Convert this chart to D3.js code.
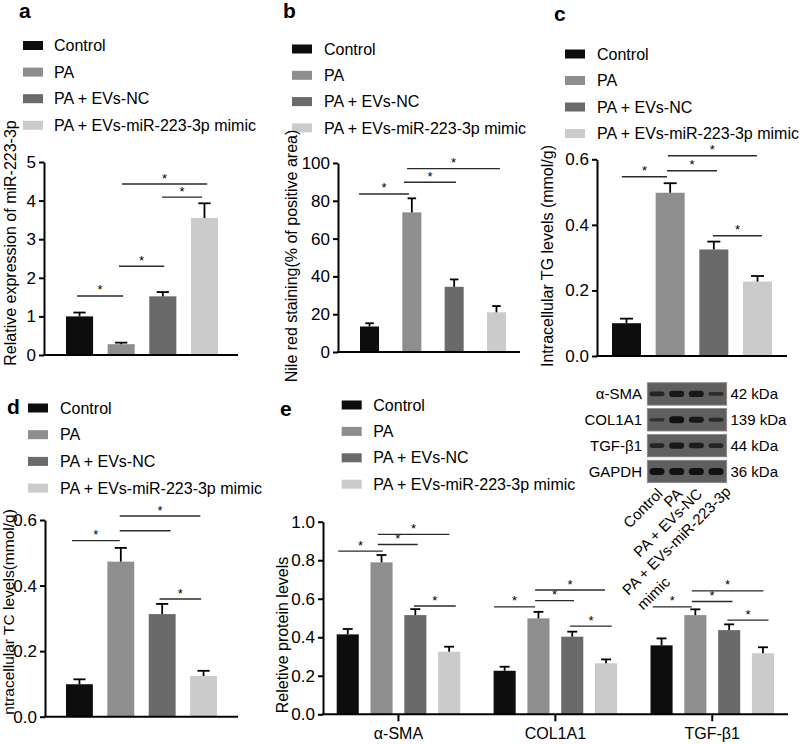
<!DOCTYPE html>
<html><head><meta charset="utf-8">
<script src="https://cdn.jsdelivr.net/npm/d3@7"></script>
<style>
body{margin:0;background:#fff}
svg text{font-family:"Liberation Sans",Arial,Helvetica,sans-serif;fill:#000}
</style>
</head><body>
<svg id="fig" width="800" height="744"></svg>
<script>
// ---------------- DATA ----------------
const groups = ["Control", "PA", "PA + EVs-NC", "PA + EVs-miR-223-3p mimic"];
const groupColors = ["#0d0d0d", "#8e8e8e", "#6a6a6a", "#cbcbcb"];

// panel a: relative expression of miR-223-3p
const aMean = [1.00, 0.28, 1.52, 3.55];
const aErr  = [0.10, 0.04, 0.11, 0.38];
const aTicks = [0, 1, 2, 3, 4, 5];
// [barA, barB, level, fracA, fracB, hasStar]
const aSig = [[0,1,1.53,0.41,0.57,1],[1,2,2.30,0.42,0.55,1],[2,3,4.09,0.47,0.41,1],[1,3,4.43,0.53,0.60,1]];

// panel b: Nile red staining
const bMean = [13.5, 73.9, 34.5, 21.0];
const bErr  = [1.7, 7.4, 3.9, 3.3];
const bTicks = [0, 20, 40, 60, 80, 100];
const bSig = [[0,1,83.6,-0.05,0.35,1],[1,2,89.8,0.09,0.60,1],[1,3,97.0,0.25,0.69,1]];

// panel c: intracellular TG
const cMean = [0.100, 0.498, 0.325, 0.227];
const cErr  = [0.014, 0.029, 0.024, 0.017];
const cTicks = [0.0, 0.2, 0.4, 0.6];
const cSig = [[0,1,0.547,0.34,0.39,1],[1,2,0.565,0.39,0.61,1],[1,3,0.611,0.42,0.48,1],[2,3,0.367,0.47,0.65,1]];

// panel d: intracellular TC
const dMean = [0.099, 0.473, 0.313, 0.124];
const dErr  = [0.015, 0.042, 0.031, 0.016];
const dTicks = [0.0, 0.2, 0.4, 0.6];
const dSig = [[0,1,0.537,0.22,0.46,1],[1,2,0.567,0.46,0.81,0],[1,3,0.612,0.46,0.38,1],[2,3,0.359,0.40,0.41,1]];

// panel e: relative protein levels
const eProteins = ["α-SMA", "COL1A1", "TGF-β1"];
const eMean = [[0.415, 0.789, 0.515, 0.325], [0.226, 0.498, 0.403, 0.265], [0.358, 0.515, 0.437, 0.317]];
const eErr  = [[0.028, 0.038, 0.031, 0.026], [0.021, 0.034, 0.026, 0.020], [0.036, 0.030, 0.030, 0.031]];
const eTicks = [0.0, 0.2, 0.4, 0.6, 0.8, 1.0];
const eSig = [
  [[0,1,0.847,0.07,0.55,1],[1,2,0.882,0.33,0.61,1],[1,3,0.934,0.33,0.51,1],[2,3,0.562,0.44,0.80,1]],
  [[0,1,0.558,0.02,0.35,1],[1,2,0.590,0.35,0.58,1],[1,3,0.645,0.35,0.45,1],[2,3,0.458,0.40,0.76,1]],
  [[0,1,0.558,0.10,0.34,1],[1,2,0.586,0.34,0.65,1],[1,3,0.641,0.34,0.52,1],[2,3,0.489,0.42,0.75,1]]
];

// western blot inset
const blotRows = ["α-SMA", "COL1A1", "TGF-β1", "GAPDH"];
const blotKda  = ["42 kDa", "139 kDa", "44 kDa", "36 kDa"];
const blotBands = [[0.55,0.85,0.85,0.35],[0.25,1.0,0.8,0.4],[0.55,0.85,0.7,0.55],[1,1,1,1]];
const blotLanes = [["Control"], ["PA"], ["PA + EVs-NC"], ["PA + EVs-miR-223-3p", "mimic"]];

// ---------------- DRAW ----------------
const svg = d3.select("#fig");
const FS = 16, TFS = 17;

function panelLetter(t, x, y) {
  svg.append("text").attr("x", x).attr("y", y).text(t)
    .style("font-size", "21px").style("font-weight", "bold");
}
function legend(rectX, textX, rowY0, rowStep) {
  const g = svg.append("g");
  groups.forEach((name, k) => {
    const cy = rowY0 + k * rowStep;
    g.append("rect").attr("x", rectX).attr("y", cy - 4.5).attr("width", 20).attr("height", 9).attr("fill", groupColors[k]);
    g.append("text").attr("x", textX).attr("y", cy).attr("dy", "0.35em").text(name).style("font-size", FS + "px");
  });
}
function yTitle(t, x, y, fs) {
  svg.append("text").attr("transform", `translate(${x},${y}) rotate(-90)`)
    .attr("text-anchor", "middle").attr("dy", "0.35em").text(t).style("font-size", (fs || FS) + "px");
}
function yAxis(y, x, ticks, fmt) {
  const g = svg.append("g").attr("transform", `translate(${x},0)`)
    .call(d3.axisLeft(y).tickValues(ticks).tickFormat(fmt).tickSize(5).tickSizeOuter(0).tickPadding(3));
  g.select(".domain").attr("stroke-width", 2).attr("stroke", "#000");
  g.selectAll(".tick line").attr("stroke-width", 2).attr("stroke", "#000");
  g.selectAll(".tick text").style("font-size", TFS + "px").attr("fill", "#000");
  return g;
}
function bars(g, xs, y, means, errs) {
  const bw = xs.bandwidth();
  means.forEach((m, i) => {
    g.append("rect").attr("x", xs(i)).attr("y", y(m)).attr("width", bw)
      .attr("height", y(0) - y(m)).attr("fill", groupColors[i]);
    const cx = xs(i) + bw / 2, top = y(m + errs[i]), cw = bw * 0.45;
    g.append("line").attr("x1", cx).attr("x2", cx).attr("y1", y(m)).attr("y2", top)
      .attr("stroke", "#000").attr("stroke-width", 1.8);
    g.append("line").attr("x1", cx - cw / 2).attr("x2", cx + cw / 2).attr("y1", top).attr("y2", top)
      .attr("stroke", "#000").attr("stroke-width", 1.8);
  });
}
function sigs(g, xs, y, list) {
  const bw = xs.bandwidth();
  list.forEach(([a, b, v, fa, fb, star]) => {
    const x1 = xs(a) + bw * fa, x2 = xs(b) + bw * fb, yy = y(v);
    g.append("line").attr("x1", x1).attr("x2", x2).attr("y1", yy).attr("y2", yy)
      .attr("stroke", "#2a2a2a").attr("stroke-width", 1.4);
    if (star) g.append("text").attr("x", (x1 + x2) / 2).attr("y", yy - 1.5)
      .attr("text-anchor", "middle").text("*").style("font-size", "13px");
  });
}

function simplePanel(o) {
  panelLetter(o.letter, o.letterX, o.letterY);
  legend(o.legRectX, o.legTextX, o.legY0, o.legStep);
  const y = d3.scaleLinear().domain([0, o.ticks[o.ticks.length - 1]]).range([o.y0, o.y1]);
  const xs = d3.scaleBand().domain(d3.range(groups.length)).range([o.barL, o.barR]).paddingInner(o.pad).paddingOuter(0);
  const g = svg.append("g");
  bars(g, xs, y, o.mean, o.err);
  sigs(g, xs, y, o.sig);
  yAxis(y, o.axisX, o.ticks, o.fmt);
  svg.append("line").attr("x1", o.axisX - 1).attr("x2", o.axisEnd).attr("y1", o.y0).attr("y2", o.y0)
    .attr("stroke", "#000").attr("stroke-width", 2);
  yTitle(o.title, o.titleX, o.titleY, o.titleFs);
}

simplePanel({letter: "a", letterX: 19, letterY: 18, legRectX: 23, legTextX: 54, legY0: 45.5, legStep: 26.6,
  ticks: aTicks, fmt: d3.format("d"), y0: 355, y1: 162, barL: 66, barR: 218, pad: 0.35,
  mean: aMean, err: aErr, sig: aSig, axisX: 44, axisEnd: 238,
  title: "Relative expression of miR-223-3p", titleX: 10, titleY: 243});

simplePanel({letter: "b", letterX: 283, letterY: 18, legRectX: 292, legTextX: 324, legY0: 49, legStep: 26.3,
  ticks: bTicks, fmt: d3.format("d"), y0: 352, y1: 163, barL: 360, barR: 506, pad: 0.55,
  mean: bMean, err: bErr, sig: bSig, axisX: 338, axisEnd: 520,
  title: "Nile  red staining(% of positive area)", titleX: 291, titleY: 256});

simplePanel({letter: "c", letterX: 554, letterY: 21, legRectX: 565, legTextX: 597, legY0: 54, legStep: 26.5,
  ticks: cTicks, fmt: d3.format(".1f"), y0: 356, y1: 159.3, barL: 612, barR: 772, pad: 0.336,
  mean: cMean, err: cErr, sig: cSig, axisX: 597, axisEnd: 787,
  title: "Intracellular TG levels (mmol/g)", titleX: 547, titleY: 256});

simplePanel({letter: "d", letterX: 7, letterY: 414, legRectX: 28, legTextX: 60, legY0: 408, legStep: 26.7,
  ticks: dTicks, fmt: d3.format(".1f"), y0: 716.7, y1: 520, barL: 66, barR: 217, pad: 0.35,
  mean: dMean, err: dErr, sig: dSig, axisX: 45, axisEnd: 238,
  title: "ntracellular TC levels(mmol/g)", titleX: 9, titleY: 612, titleFs: 15.5});

// ---- panel e ----
panelLetter("e", 280, 416);
legend(341.7, 373.3, 405, 26.4);
{
  const y0 = 714.3;
  const y = d3.scaleLinear().domain([0, 1]).range([y0, 521.7]);
  const x0 = d3.scaleBand().domain(eProteins).range([336.7, 774]).paddingInner(0.213).paddingOuter(0);
  const x1 = d3.scaleBand().domain(d3.range(groups.length)).range([0, x0.bandwidth()]).paddingInner(0.347).paddingOuter(0);
  eProteins.forEach((p, gi) => {
    const g = svg.append("g").attr("transform", `translate(${x0(p)},0)`);
    bars(g, x1, y, eMean[gi], eErr[gi]);
    sigs(g, x1, y, eSig[gi]);
  });
  yAxis(y, 323, eTicks, d3.format(".1f"));
  const xa = svg.append("g").attr("transform", `translate(0,${y0})`)
    .call(d3.axisBottom(x0).tickSize(7).tickSizeOuter(0).tickPadding(6));
  xa.select(".domain").remove();
  xa.selectAll(".tick line").attr("stroke-width", 2).attr("stroke", "#000");
  xa.selectAll(".tick text").style("font-size", FS + "px").attr("fill", "#000");
  svg.append("line").attr("x1", 322).attr("x2", 788).attr("y1", y0).attr("y2", y0)
    .attr("stroke", "#000").attr("stroke-width", 2);
  yTitle("Reletive  protein levels", 282, 635);

  // western blot inset
  const rowY = d3.scaleBand().domain(d3.range(blotRows.length)).range([382.7, 482.7]).paddingInner(0.13).paddingOuter(0);
  const laneX = d3.scalePoint().domain(d3.range(4)).range([657, 716]);
  const bg = svg.append("g");
  blotRows.forEach((r, ri) => {
    const ry = rowY(ri), rh = rowY.bandwidth();
    bg.append("rect").attr("x", 647.3).attr("y", ry).attr("width", 79.4).attr("height", rh)
      .attr("fill", "#5f5f5f").attr("stroke", "#8a8a8a").attr("stroke-width", 0.8);
    blotBands[ri].forEach((v, li) => {
      const h = 2 + 5 * v;
      bg.append("rect").attr("x", laneX(li) - 7.5).attr("y", ry + rh / 2 - h / 2)
        .attr("width", 15).attr("height", h).attr("rx", h / 2)
        .attr("fill", "#111").attr("opacity", 0.45 + 0.55 * v);
    });
    bg.append("text").attr("x", 642).attr("y", ry + rh / 2).attr("dy", "0.35em").attr("text-anchor", "end")
      .text(r).style("font-size", "15px");
    bg.append("text").attr("x", 730.5).attr("y", ry + rh / 2).attr("dy", "0.35em")
      .text(blotKda[ri]).style("font-size", "15px");
  });
  blotLanes.forEach((lines, li) => {
    const multi = lines.length > 1;
    const ax = laneX(li) + (multi ? 12 : 3), ay = multi ? 489 : 491;
    const tg = bg.append("g").attr("transform", `translate(${ax},${ay}) rotate(-45)`);
    const t1 = tg.append("text").attr("text-anchor", "end").attr("dy", "0.35em").text(lines[0]).style("font-size", "15px");
    if (multi) {
      const len = t1.node().getComputedTextLength();
      tg.append("text").attr("x", -len).attr("y", 21).attr("dy", "0.35em").text(lines[1]).style("font-size", "15px");
    }
  });
}
</script>
</body></html>
